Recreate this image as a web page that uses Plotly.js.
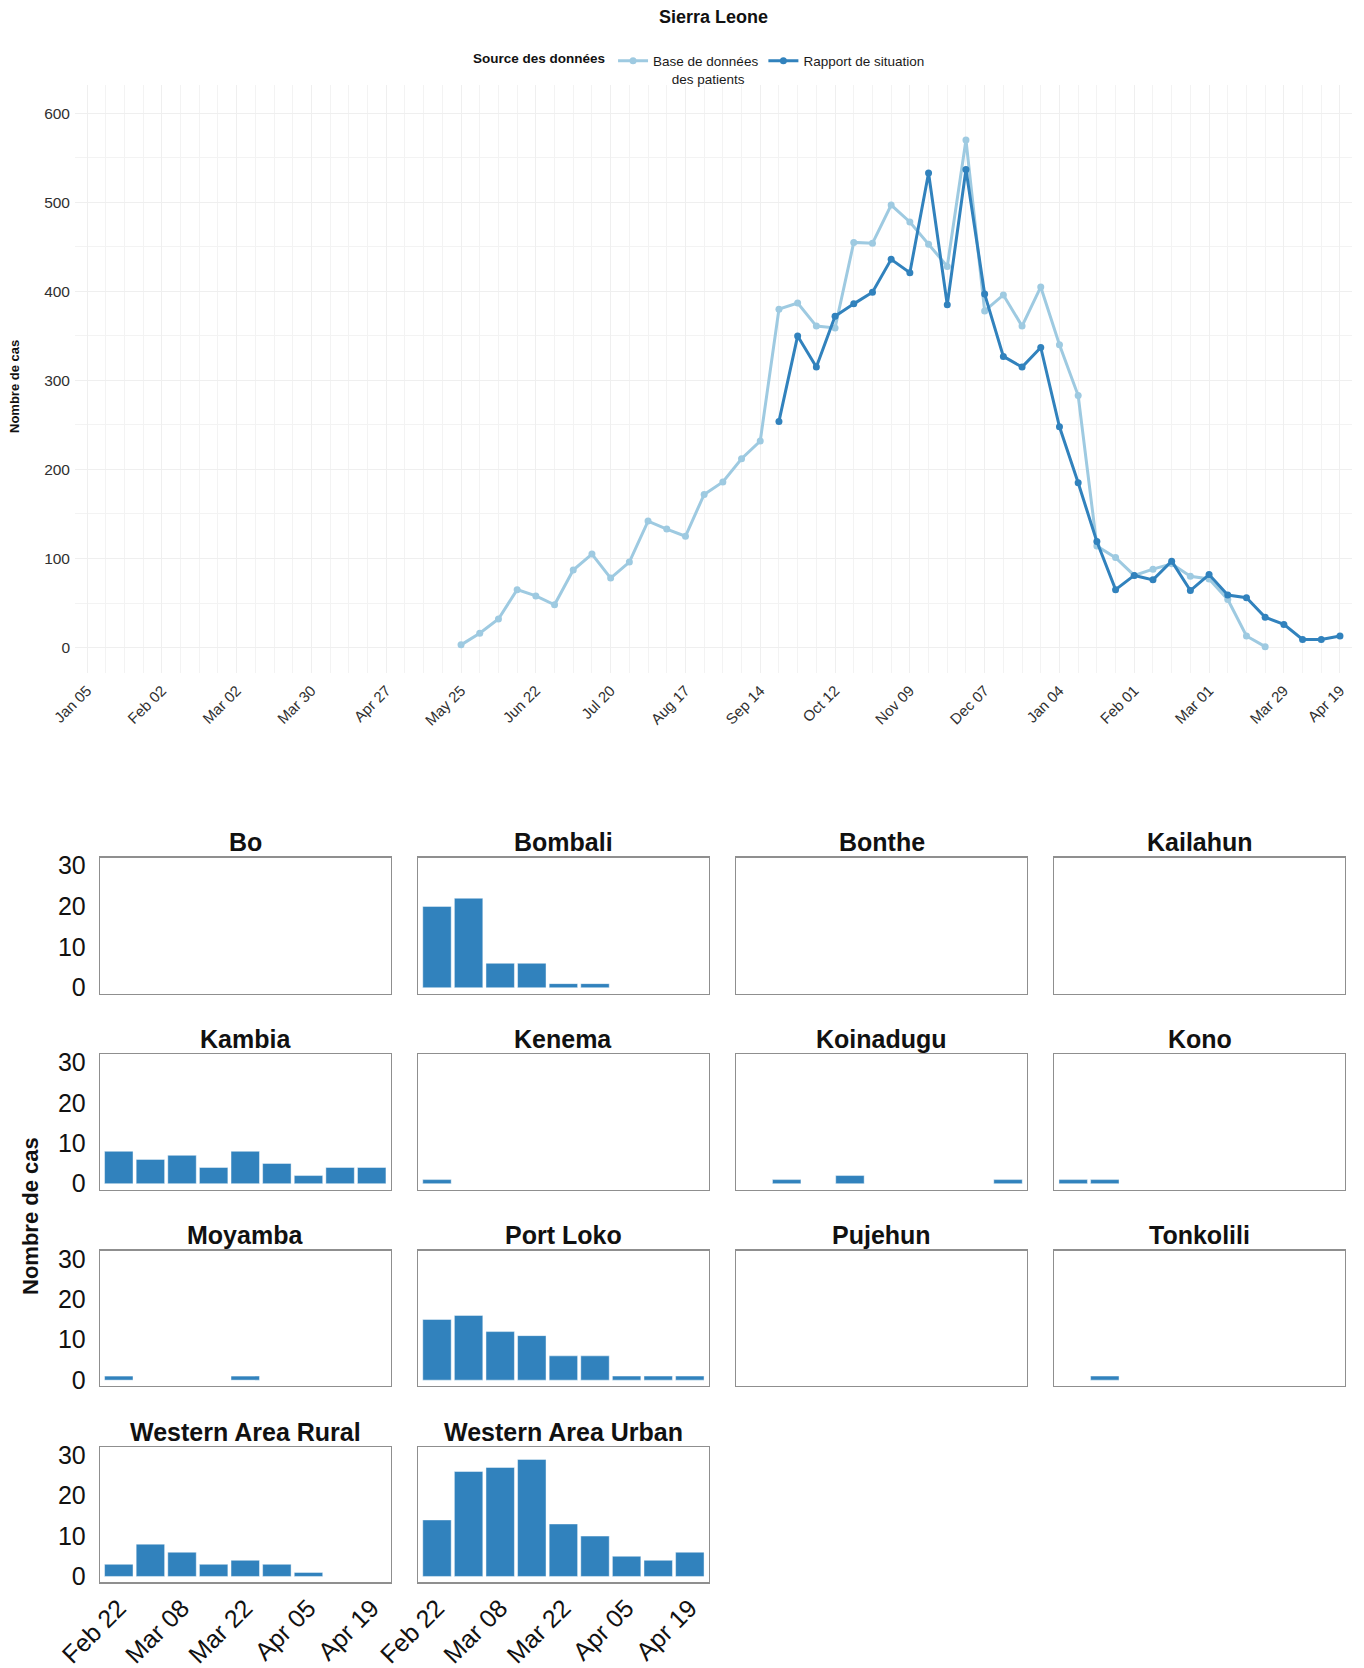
<!DOCTYPE html>
<html>
<head>
<meta charset="utf-8">
<script src="https://cdn.plot.ly/plotly-3.0.1.min.js"></script>
<style>
  html, body { margin: 0; padding: 0; background: #ffffff; }
  #chart { width: 1364px; height: 1668px; }
</style>
</head>
<body>
<div id="chart"></div>
<script>
// ---- National weekly case counts (week starting Sunday) ----
const weeks = [
  '2014-05-25','2014-06-01','2014-06-08','2014-06-15','2014-06-22','2014-06-29',
  '2014-07-06','2014-07-13','2014-07-20','2014-07-27','2014-08-03','2014-08-10',
  '2014-08-17','2014-08-24','2014-08-31','2014-09-07','2014-09-14','2014-09-21',
  '2014-09-28','2014-10-05','2014-10-12','2014-10-19','2014-10-26','2014-11-02',
  '2014-11-09','2014-11-16','2014-11-23','2014-11-30','2014-12-07','2014-12-14',
  '2014-12-21','2014-12-28','2015-01-04','2015-01-11','2015-01-18','2015-01-25',
  '2015-02-01','2015-02-08','2015-02-15','2015-02-22','2015-03-01','2015-03-08',
  '2015-03-15','2015-03-22','2015-03-29','2015-04-05','2015-04-12','2015-04-19'
];

// Patient database
const patientDatabase = [
  3, 16, 32, 65, 58, 48, 87, 105, 78, 96, 142, 133,
  125, 172, 186, 212, 232, 380, 387, 361, 359, 455, 454, 497,
  478, 453, 428, 570, 378, 396, 361, 405, 340, 283, 114, 101,
  81, 88, 94, 80, 77, 54, 13, 1, null, null, null, null
];

// Situation reports
const situationReports = [
  null, null, null, null, null, null, null, null, null, null, null, null,
  null, null, null, null, null, 254, 350, 315, 372, 386, 399, 436,
  421, 533, 385, 537, 397, 327, 315, 337, 248, 185, 119, 65,
  81, 76, 97, 64, 82, 59, 56, 34, 26, 9, 9, 13
];

const nationalTicks = [
  '2014-01-05','2014-02-02','2014-03-02','2014-03-30','2014-04-27','2014-05-25',
  '2014-06-22','2014-07-20','2014-08-17','2014-09-14','2014-10-12','2014-11-09',
  '2014-12-07','2015-01-04','2015-02-01','2015-03-01','2015-03-29','2015-04-19'
];

// ---- District weekly case counts ----
const districtWeeks = [
  '2015-02-22','2015-03-01','2015-03-08','2015-03-15','2015-03-22',
  '2015-03-29','2015-04-05','2015-04-12','2015-04-19'
];
const districtTicks = ['2015-02-22','2015-03-08','2015-03-22','2015-04-05','2015-04-19'];

const districts = [
  'Bo','Bombali','Bonthe','Kailahun',
  'Kambia','Kenema','Koinadugu','Kono',
  'Moyamba','Port Loko','Pujehun','Tonkolili',
  'Western Area Rural','Western Area Urban'
];
const bo               = [0, 0, 0, 0, 0, 0, 0, 0, 0];
const bombali          = [20, 22, 6, 6, 1, 1, 0, 0, 0];
const bonthe           = [0, 0, 0, 0, 0, 0, 0, 0, 0];
const kailahun         = [0, 0, 0, 0, 0, 0, 0, 0, 0];
const kambia           = [8, 6, 7, 4, 8, 5, 2, 4, 4];
const kenema           = [1, 0, 0, 0, 0, 0, 0, 0, 0];
const koinadugu        = [0, 1, 0, 2, 0, 0, 0, 0, 1];
const kono             = [1, 1, 0, 0, 0, 0, 0, 0, 0];
const moyamba          = [1, 0, 0, 0, 1, 0, 0, 0, 0];
const portLoko         = [15, 16, 12, 11, 6, 6, 1, 1, 1];
const pujehun          = [0, 0, 0, 0, 0, 0, 0, 0, 0];
const tonkolili        = [0, 1, 0, 0, 0, 0, 0, 0, 0];
const westernAreaRural = [3, 8, 6, 3, 4, 3, 1, 0, 0];
const westernAreaUrban = [14, 26, 27, 29, 13, 10, 5, 4, 6];

const districtCounts = [
  bo, bombali, bonthe, kailahun,
  kambia, kenema, koinadugu, kono,
  moyamba, portLoko, pujehun, tonkolili,
  westernAreaRural, westernAreaUrban
];

// ---- Page geometry (pixels) ----
const W = 1364, H = 1668;
const DAY = 86400000;
const px = p => p / W;
const py = p => 1 - p / H;
const shiftDays = (iso, d) => new Date(Date.parse(iso + 'T00:00:00Z') + d * DAY).toISOString().slice(0, 19).replace('T', ' ');

const FONT = '"Liberation Sans", Arial, sans-serif';
const LIGHT = '#9ecae1', DARK = '#3182bd';

const colEdges = [[100, 390.5], [418.2, 708.6], [736.3, 1026.8], [1054.4, 1344.9]];
const rowEdges = [[857.6, 993.6], [1054.3, 1189.5], [1250.7, 1386], [1447.3, 1582.3]];

const traces = [
  {
    type: 'scatter', mode: 'lines+markers', x: weeks, y: patientDatabase,
    name: 'Base de données<br>\u00a0\u00a0\u00a0\u00a0\u00a0des patients',
    line: { color: LIGHT, width: 3 }, marker: { color: LIGHT, size: 7 },
    xaxis: 'x', yaxis: 'y'
  },
  {
    type: 'scatter', mode: 'lines+markers', x: weeks, y: situationReports,
    name: 'Rapport de situation',
    line: { color: DARK, width: 3 }, marker: { color: DARK, size: 7 },
    xaxis: 'x', yaxis: 'y'
  }
];

const layout = {
  width: W, height: H,
  margin: { l: 0, r: 0, t: 0, b: 0, autoexpand: false },
  paper_bgcolor: '#ffffff', plot_bgcolor: '#ffffff',
  font: { family: FONT, color: '#1a1a1a' },
  title: {
    text: '<b>Sierra Leone</b>', font: { family: FONT, size: 18, color: '#111111' },
    xref: 'paper', x: px(713.5), xanchor: 'center',
    yref: 'container', y: py(17), yanchor: 'middle'
  },
  showlegend: true,
  legend: {
    orientation: 'h', xref: 'container', yref: 'container',
    x: px(471), xanchor: 'left', y: py(45.5), yanchor: 'top',
    font: { family: FONT, size: 13.5, color: '#1a1a1a' },
    title: { text: '<b>Source des données</b>', side: 'left', font: { family: FONT, size: 13.5, color: '#111111' } },
    itemwidth: 30, valign: 'top', bgcolor: 'rgba(0,0,0,0)'
  },
  xaxis: {
    domain: [px(75), px(1352)], anchor: 'y', type: 'date',
    range: [shiftDays('2014-01-05', -4.5), shiftDays('2015-04-19', 4.5)],
    tickmode: 'array', tickvals: nationalTicks, tickformat: '%b %d', tickangle: -45,
    tickfont: { family: FONT, size: 15, color: '#303030' },
    showgrid: true, gridcolor: '#efefef', gridwidth: 1,
    minor: { tickmode: 'linear', tick0: '2014-01-05', dtick: 7 * DAY, showgrid: true, gridcolor: '#f3f3f3', gridwidth: 1 },
    zeroline: false, showline: false, ticks: '', ticklabelstandoff: 5
  },
  yaxis: {
    domain: [py(673), py(85)], anchor: 'x',
    range: [-28.6, 631.8],
    tickmode: 'array', tickvals: [0, 100, 200, 300, 400, 500, 600],
    tickfont: { family: FONT, size: 15.5, color: '#303030' },
    showgrid: true, gridcolor: '#efefef', gridwidth: 1,
    minor: { tickmode: 'linear', tick0: 0, dtick: 50, showgrid: true, gridcolor: '#f3f3f3', gridwidth: 1 },
    zeroline: false, showline: false, ticks: '', ticklabelstandoff: 4
  },
  annotations: [
    {
      text: '<b>Nombre de cas</b>', xref: 'paper', yref: 'paper',
      x: px(14), y: py(387), xanchor: 'center', yanchor: 'middle',
      textangle: -90, showarrow: false, font: { family: FONT, size: 13, color: '#111111' }
    },
    {
      text: '<b>Nombre de cas</b>', xref: 'paper', yref: 'paper',
      x: px(30), y: py(1216), xanchor: 'center', yanchor: 'middle',
      textangle: -90, showarrow: false, font: { family: FONT, size: 22, color: '#111111' }
    }
  ]
};

// ---- One small-multiple panel per district ----
districts.forEach((name, i) => {
  const k = i + 2;
  const row = Math.floor(i / 4), col = i % 4;
  const [x0, x1] = colEdges[col];
  const [y0, y1] = rowEdges[row];

  traces.push({
    type: 'bar', x: districtWeeks,
    y: districtCounts[i].map(v => (v === 0 ? null : v)),
    width: 0.9 * 7 * DAY,
    marker: { color: DARK, line: { color: 'rgba(255,255,255,0.45)', width: 1 } },
    xaxis: 'x' + k, yaxis: 'y' + k, showlegend: false, name: name
  });

  layout['xaxis' + k] = {
    domain: [px(x0), px(x1)], anchor: 'y' + k, type: 'date',
    range: [shiftDays('2015-02-22', -4.16), shiftDays('2015-04-19', 4.16)],
    tickmode: 'array', tickvals: districtTicks, tickformat: '%b %d', tickangle: -45,
    showticklabels: row === 3,
    tickfont: { family: FONT, size: 25, color: '#111111' },
    showgrid: false, zeroline: false, ticks: '',
    showline: true, mirror: true, linecolor: '#8f8f8f', linewidth: 1.3
  };
  layout['yaxis' + k] = {
    domain: [py(y1), py(y0)], anchor: 'x' + k,
    range: [-1.45, 32.0],
    tickmode: 'array', tickvals: [0, 10, 20, 30],
    showticklabels: col === 0,
    tickfont: { family: FONT, size: 25, color: '#111111' },
    showgrid: false, zeroline: false, ticks: '', ticklabelstandoff: 8,
    showline: true, mirror: true, linecolor: '#8f8f8f', linewidth: 1.3
  };

  layout.annotations.push({
    text: '<b>' + name + '</b>', xref: 'paper', yref: 'paper',
    x: px((x0 + x1) / 2), y: py(y0 - 15.5), xanchor: 'center', yanchor: 'middle',
    showarrow: false, font: { family: FONT, size: 25, color: '#111111' }
  });
});

Plotly.newPlot('chart', traces, layout, { displayModeBar: false, staticPlot: true });
</script>
</body>
</html>
